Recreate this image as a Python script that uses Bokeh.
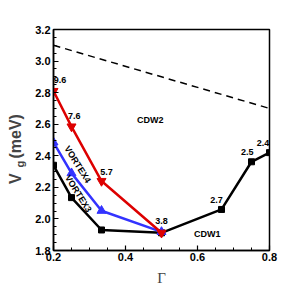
import math
from bokeh.plotting import figure
from bokeh.models import (ColumnDataSource, LabelSet, Label, SingleIntervalTicker, Range1d,
                          PrintfTickFormatter)
from bokeh.core.properties import value
from bokeh.embed import file_html
from bokeh.resources import INLINE

# data
gamma = [0.2, 0.25, 1/3, 0.5, 2/3, 0.75, 0.8]
cdw1_v = [2.34, 2.135, 1.93, 1.912, 2.06, 2.362, 2.42]
vortex4_g = [0.2, 0.25, 1/3, 0.5]
vortex4_v = [2.81, 2.585, 2.24, 1.912]
vortex3_g = [0.2, 0.25, 1/3, 0.5]
vortex3_v = [2.485, 2.29, 2.052, 1.918]
dash_g = [0.2, 0.8]
dash_v = [3.1, 2.7]

num_labels = ["9.6", "7.6", "5.7", "3.8", "2.7", "2.5", "2.4"]
num_x = [0.2005, 0.258, 0.347, 0.5, 0.653, 0.738, 0.7995]
num_y = [2.877, 2.655, 2.30, 1.99, 2.123, 2.427, 2.482]
num_align = ["left", "center", "center", "center", "center", "center", "right"]

region_labels = ["CDW2", "CDW1"]
region_x = [0.469, 0.627]
region_y = [2.628, 1.902]

vortex_labels = ["VORTEX4", "VORTEX3"]
vortex_x = [0.267, 0.269]
vortex_y = [2.345, 2.16]

FONT = "Liberation Sans"

p = figure(width=291, height=291, output_backend="svg", toolbar_location=None,
           x_range=Range1d(0.2, 0.8), y_range=Range1d(1.8, 3.2),
           min_border_left=53, min_border_right=22, min_border_top=29, min_border_bottom=41)
p.grid.visible = False
p.outline_line_color = "black"
p.outline_line_width = 1.5
p.background_fill_color = "white"
p.border_fill_color = "white"

p.xaxis.ticker = SingleIntervalTicker(interval=0.2, num_minor_ticks=4)
p.yaxis.ticker = SingleIntervalTicker(interval=0.2, num_minor_ticks=4)
for ax in (p.xaxis[0], p.yaxis[0]):
    ax.formatter = PrintfTickFormatter(format="%.1f")
    ax.axis_line_width = 1.5
    ax.major_tick_in = 5
    ax.major_tick_out = 0
    ax.minor_tick_in = 3
    ax.minor_tick_out = 0
    ax.major_tick_line_width = 1.2
    ax.major_label_text_font = FONT
    ax.major_label_text_font_style = "bold"
    ax.major_label_text_font_size = "11px"
    ax.major_label_text_color = "black"
p.yaxis.axis_label = None
p.xaxis.major_label_standoff = 2
p.yaxis.major_label_standoff = 3
p.xaxis.axis_label = "Γ"
p.xaxis.axis_label_text_font = "Liberation Serif"
p.xaxis.axis_label_text_font_style = "normal"
p.xaxis.axis_label_text_font_size = "15px"
p.xaxis.axis_label_standoff = 6

p.line(dash_g, dash_v, line_color="black", line_width=1.5, line_dash="7 5")

p.line(gamma, cdw1_v, line_color="black", line_width=2.5)
p.scatter(gamma, cdw1_v, marker="square", size=6, color="black")

p.line(vortex3_g, vortex3_v, line_color="#3333ff", line_width=2.5)
p.scatter(vortex3_g, vortex3_v, marker="triangle", size=9, color="#3333ff")

p.line(vortex4_g, vortex4_v, line_color="#dd0000", line_width=2.5)
p.scatter(vortex4_g, vortex4_v, marker="inverted_triangle", size=9, color="#dd0000")

common = dict(text_baseline="middle", text_font=value(FONT),
              text_font_style="bold", text_font_size="9px", text_color="black")
src_num = ColumnDataSource(dict(x=num_x, y=num_y, t=num_labels, a=num_align))
p.add_layout(LabelSet(x="x", y="y", text="t", source=src_num, text_align="a", **common))
src_reg = ColumnDataSource(dict(x=region_x, y=region_y, t=region_labels))
p.add_layout(LabelSet(x="x", y="y", text="t", source=src_reg, text_align="center", **common))
src_vx = ColumnDataSource(dict(x=vortex_x, y=vortex_y, t=vortex_labels))
p.add_layout(LabelSet(x="x", y="y", text="t", source=src_vx, text_align="center",
                      angle=-58 * math.pi / 180, **common))

# y axis label: V_g (meV), pieces placed in side panels (screen units, unclipped)
ylab = dict(x_units="screen", y_units="screen", angle=math.pi / 2, text_align="left",
            text_baseline="middle", text_font=FONT, text_font_style="bold")
p.add_layout(Label(x=0, y=92, text="(meV)", text_font_size="16px", **ylab), "left")
p.add_layout(Label(x=-38, y=-154.5, text="V", text_font_size="16px", **ylab), "above")
p.add_layout(Label(x=-250, y=83, text="g", text_font_size="11px", **ylab), "right")

open("out.html", "w").write(file_html(p, INLINE))
